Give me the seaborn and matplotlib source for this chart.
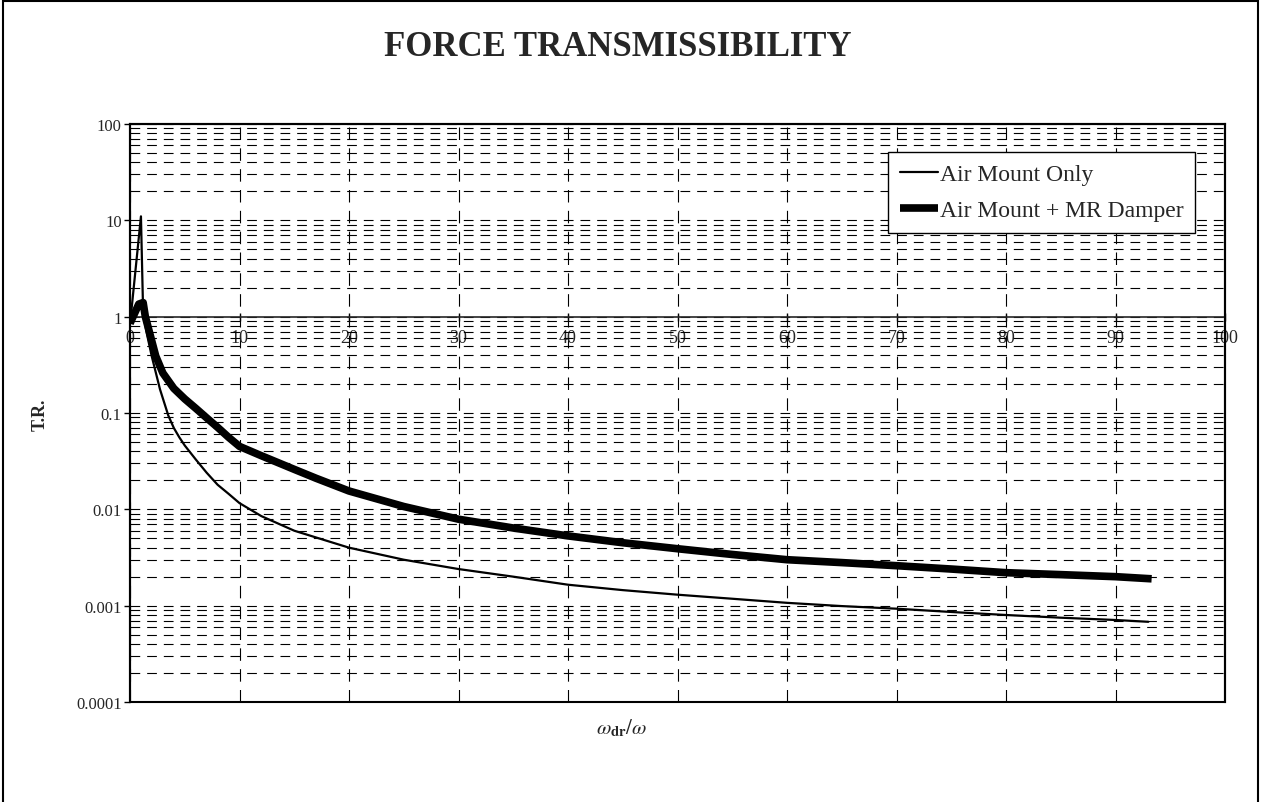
import matplotlib
matplotlib.use("Agg")
import matplotlib.pyplot as plt
import matplotlib.patches as mpatches
from matplotlib.ticker import LogLocator, FixedLocator, NullFormatter, FixedFormatter
import seaborn as sns
import pandas as pd

# ---- data ----
air_x = [0, 1.0, 1.2, 1.5, 1.98, 2.74, 3.5, 4, 4.5, 5, 6, 7, 8, 9, 10, 12, 15, 17,
         20, 25, 30, 35, 40, 45, 50, 55, 60, 65, 70, 75, 80, 85, 90, 93]
air_tr = [0.83, 11.0, 1.1, 0.70, 0.39, 0.176, 0.094, 0.070, 0.056, 0.046, 0.033,
          0.024, 0.018, 0.0145, 0.0116, 0.0085, 0.0060, 0.0051, 0.0040, 0.0030,
          0.0024, 0.0020, 0.00165, 0.00145, 0.0013, 0.00118, 0.00107, 0.00099,
          0.00093, 0.00086, 0.00080, 0.00075, 0.00071, 0.00068]

mr_x = [0, 0.8, 1.2, 1.4, 2.35, 3, 4, 5, 6, 7, 8, 9, 10, 12, 15, 17, 20, 25, 30,
        35, 40, 45, 50, 55, 60, 65, 70, 75, 80, 85, 90, 93.3]
mr_tr = [0.85, 1.35, 1.4, 1.0, 0.39, 0.26, 0.18, 0.14, 0.112, 0.089, 0.071, 0.056,
         0.045, 0.036, 0.026, 0.0210, 0.0155, 0.0107, 0.0079, 0.0064, 0.0053,
         0.0045, 0.0039, 0.0034, 0.0030, 0.0028, 0.0026, 0.0024, 0.0022, 0.0021,
         0.0020, 0.0019]

series_names = ["Air Mount Only", "Air Mount + MR Damper"]
x_ticks = [0, 10, 20, 30, 40, 50, 60, 70, 80, 90, 100]
x_tick_labels = ["0", "10", "20", "30", "40", "50", "60", "70", "80", "90", "100"]
y_ticks = [0.0001, 0.001, 0.01, 0.1, 1, 10, 100]
y_tick_labels = ["0.0001", "0.001", "0.01", "0.1", "1", "10", "100"]

sns.set_style("white")
plt.rcParams["font.family"] = ["Liberation Serif", "DejaVu Serif"]
plt.rcParams["mathtext.fontset"] = "stix"
plt.rcParams["lines.scale_dashes"] = False

df_air = pd.DataFrame({"x": air_x, "tr": air_tr})
df_mr = pd.DataFrame({"x": mr_x, "tr": mr_tr})

fig = plt.figure(figsize=(12.61, 8.03), dpi=100)
ax = fig.add_axes([130 / 1261, 1 - 703 / 803, 1095 / 1261, 578 / 803])

sns.lineplot(data=df_air, x="x", y="tr", ax=ax, color="black", linewidth=1.6,
             label=series_names[0], sort=False, estimator=None, zorder=4)
sns.lineplot(data=df_mr, x="x", y="tr", ax=ax, color="black", linewidth=5.5,
             label=series_names[1], sort=False, estimator=None, zorder=4,
             solid_capstyle="butt")

ax.set_yscale("log")
ax.set_xlim(0, 100)
ax.set_ylim(0.0001, 100)

# y ticks
ax.yaxis.set_major_locator(FixedLocator(y_ticks))
ax.yaxis.set_major_formatter(FixedFormatter(y_tick_labels))
ax.yaxis.set_minor_locator(LogLocator(base=10, subs=[2, 3, 4, 5, 6, 7, 8, 9], numticks=20))
ax.yaxis.set_minor_formatter(NullFormatter())
ax.tick_params(axis="y", which="major", left=True, length=4, width=1, pad=2,
               labelsize=12, color="black")
ax.tick_params(axis="y", which="minor", left=False, length=0)

# x ticks on the y=1 axis line
ax.xaxis.set_major_locator(FixedLocator(x_ticks))
ax.xaxis.set_major_formatter(FixedFormatter(x_tick_labels))
ax.spines["bottom"].set_position(("data", 1))
ax.spines["bottom"].set_linewidth(1.2)
ax.tick_params(axis="x", which="major", bottom=True, direction="inout", length=6,
               width=1, pad=6, labelsize=13, color="black")

# grid
ax.yaxis.grid(True, which="both", color="black", linewidth=0.8, linestyle=(0, (7, 5)))
ax.xaxis.grid(True, which="major", color="black", linewidth=0.8, linestyle=(0, (9, 6)))
ax.set_axisbelow(True)

for side in ["left", "top", "right"]:
    ax.spines[side].set_color("black")
    ax.spines[side].set_linewidth(1.5)
ax.add_patch(mpatches.Rectangle((0, 0), 1, 1, transform=ax.transAxes, fill=False,
                                edgecolor="black", linewidth=1.5, clip_on=False, zorder=6))

ax.set_xlabel("")
ax.set_ylabel("")

leg = ax.legend(loc="upper right", bbox_to_anchor=(0.973, 0.952), frameon=True,
                fancybox=False, edgecolor="black", framealpha=1, fontsize=17,
                handlelength=1.6, handletextpad=0.1, labelspacing=0.6,
                borderpad=0.5, borderaxespad=0)
leg.get_frame().set_linewidth(1.0)

fig.text(618 / 1261, 1 - 48 / 803, "FORCE TRANSMISSIBILITY", ha="center", va="center",
         fontsize=25, fontweight="bold")
fig.text(40 / 1261, 1 - 415 / 803, "T.R.", ha="center", va="center", rotation=90,
         fontsize=13, fontweight="bold")
fig.text(622 / 1261, 1 - 728 / 803, r"$\omega_{\mathbf{dr}}/\omega$", ha="center",
         va="center", fontsize=15)

fig.add_artist(mpatches.Rectangle((3 / 1261, -0.01), 1255 / 1261, 1.0075,
                                  transform=fig.transFigure, fill=False,
                                  edgecolor="black", linewidth=1.5))

fig.savefig("out.png", dpi=100)
